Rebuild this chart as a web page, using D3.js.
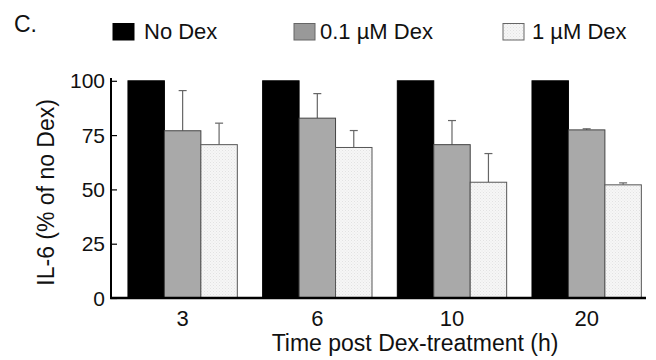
<!DOCTYPE html>
<html>
<head>
<meta charset="utf-8">
<script src="https://cdn.jsdelivr.net/npm/d3@7"></script>
<style>
  html, body { margin: 0; padding: 0; background: #fff; }
  svg { display: block; font-family: "Liberation Sans", Arial, sans-serif; }
</style>
</head>
<body>
<svg id="chart" width="656" height="360"></svg>
<script>
const categories = ["3", "6", "10", "20"];
const seriesNames = ["No Dex", "0.1 µM Dex", "1 µM Dex"];
const noDex = [100, 100, 100, 100];
const dex01 = [77, 82.8, 70.6, 77.4];
const dex01Err = [18.5, 11.3, 11.1, 0.5];
const dex1 = [70.6, 69.3, 53.3, 52.1];
const dex1Err = [9.9, 7.8, 13.2, 0.9];
const yTicks = [0, 25, 50, 75, 100];

const svg = d3.select("#chart");
const defs = svg.append("defs");
const pat = defs.append("pattern").attr("id", "stipple").attr("patternUnits", "userSpaceOnUse")
  .attr("width", 3).attr("height", 3);
pat.append("rect").attr("width", 3).attr("height", 3).attr("fill", "#f6f6f6");
pat.append("rect").attr("x", 0).attr("y", 0).attr("width", 1).attr("height", 1).attr("fill", "#e2e2e2");
pat.append("rect").attr("x", 1.5).attr("y", 1.5).attr("width", 1).attr("height", 1).attr("fill", "#e8e8e8");

const fills = ["#000000", "#a9a9a9", "url(#stipple)"];
const strokes = ["#000000", "#444444", "#555555"];

const x0 = d3.scaleBand().domain(categories).range([115.3, 654]).paddingInner(0.188).paddingOuter(0.094);
const x1 = d3.scaleBand().domain(seriesNames).range([0, x0.bandwidth()]);
const y = d3.scaleLinear().domain([0, 100]).range([298, 80.8]);

const values = [noDex, dex01, dex1];
const errs = [null, dex01Err, dex1Err];

const data = [];
categories.forEach((c, i) => {
  seriesNames.forEach((s, j) => {
    data.push({ c, s, j, v: values[j][i], e: errs[j] ? errs[j][i] : null });
  });
});

// error bars (drawn first so bars cover lower part)
const eb = svg.append("g");
data.filter(d => d.e !== null).forEach(d => {
  const cx = x0(d.c) + x1(d.s) + x1.bandwidth() / 2;
  eb.append("line").attr("x1", cx).attr("x2", cx).attr("y1", y(d.v)).attr("y2", y(d.v + d.e))
    .attr("stroke", "#666").attr("stroke-width", 1.2);
  eb.append("line").attr("x1", cx - 4).attr("x2", cx + 4).attr("y1", y(d.v + d.e)).attr("y2", y(d.v + d.e))
    .attr("stroke", "#666").attr("stroke-width", 1.2);
});

svg.append("g").selectAll("rect").data(data).join("rect")
  .attr("x", d => x0(d.c) + x1(d.s))
  .attr("y", d => y(d.v))
  .attr("width", x1.bandwidth())
  .attr("height", d => y(0) - y(d.v))
  .attr("fill", d => fills[d.j])
  .attr("stroke", d => strokes[d.j])
  .attr("stroke-width", 1);

// y axis
const yAxis = svg.append("g").attr("transform", "translate(111,0)")
  .call(d3.axisRight(y).tickValues(yTicks).tickSize(6).tickFormat(""));
yAxis.select(".domain").attr("stroke", "#000").attr("stroke-width", 2).attr("d", `M0,${y(0)}V78`);
yAxis.selectAll(".tick line").attr("stroke", "#000").attr("stroke-width", 1.2);

svg.append("g").selectAll("text").data(yTicks).join("text")
  .attr("x", 105).attr("y", d => y(d) + 7.5)
  .attr("text-anchor", "end").attr("font-size", 21).attr("fill", "#111")
  .text(d => d);

// x axis
const xAxis = svg.append("g").attr("transform", `translate(0,${y(0)})`)
  .call(d3.axisBottom(x0).tickSize(0).tickFormat(""));
xAxis.select(".domain").attr("stroke", "#000").attr("stroke-width", 2.4).attr("d", "M110,0H646");

svg.append("g").selectAll("text").data(categories).join("text")
  .attr("x", d => x0(d) + x0.bandwidth() / 2).attr("y", 326)
  .attr("text-anchor", "middle").attr("font-size", 22).attr("fill", "#111")
  .text(d => d);

svg.append("text").attr("x", 415).attr("y", 351).attr("text-anchor", "middle")
  .attr("font-size", 23).attr("fill", "#111").text("Time post Dex-treatment (h)");

svg.append("text").attr("transform", `translate(54,${(y(0) + y(100)) / 2 + 3}) rotate(-90)`)
  .attr("text-anchor", "middle").attr("font-size", 23).attr("fill", "#111")
  .text("IL-6 (% of no Dex)");

// panel label
svg.append("text").attr("x", 14).attr("y", 32).attr("font-size", 23).attr("fill", "#111").text("C.");

// legend
const legX = [113, 294, 503];
const legTX = [144, 320, 532];
seriesNames.forEach((s, j) => {
  svg.append("rect").attr("x", legX[j]).attr("y", 23.5).attr("width", 21).attr("height", 16.5)
    .attr("fill", j === 1 ? "#999" : fills[j]).attr("stroke", j === 0 ? "#000" : "#666").attr("stroke-width", 1);
  svg.append("text").attr("x", legTX[j]).attr("y", 38.5).attr("font-size", 22).attr("fill", "#111").text(s);
});
</script>
</body>
</html>
